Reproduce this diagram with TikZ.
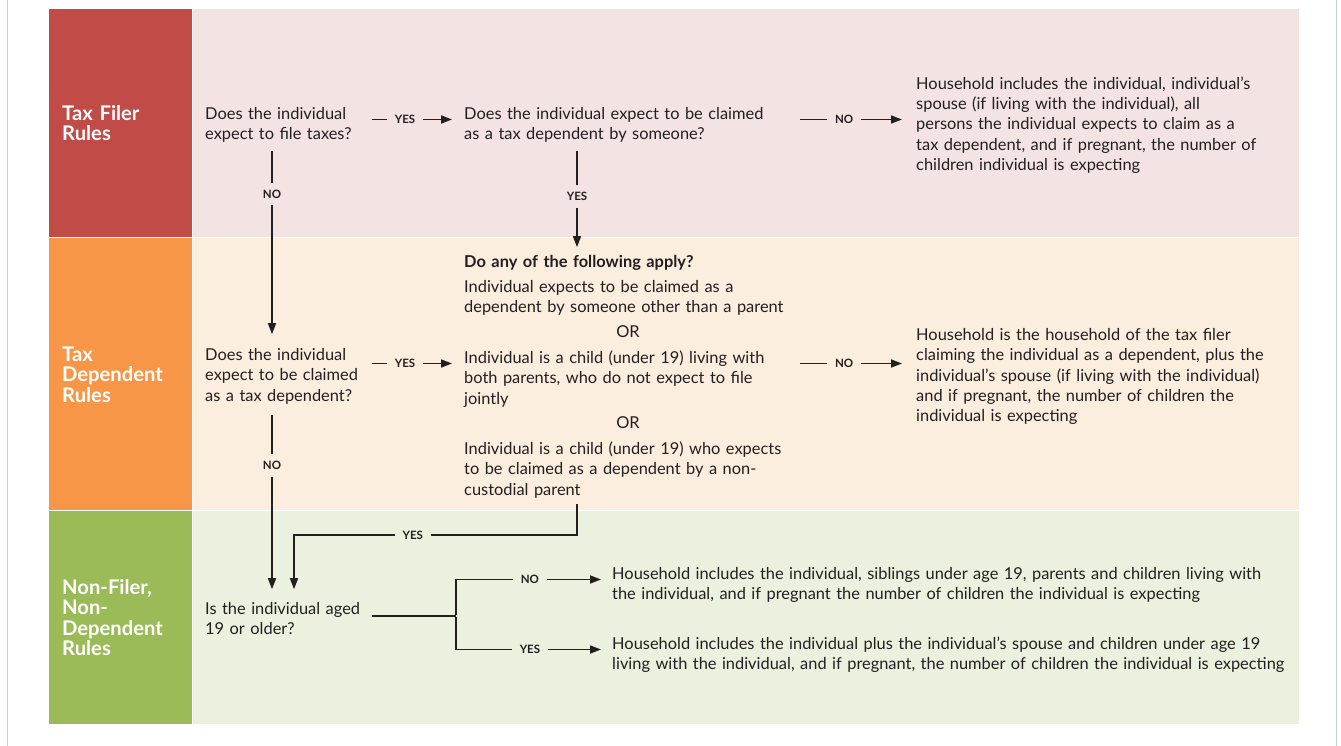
\documentclass[tikz,border=0pt]{standalone}
\usepackage{fontspec}
\setmainfont{Lato}
\usepackage{xcolor}
\usepackage{tikz}
\usetikzlibrary{arrows.meta,positioning,calc}

\definecolor{filerred}{HTML}{C04B47}
\definecolor{filerbg}{HTML}{F4E3E3}
\definecolor{deporange}{HTML}{F79646}
\definecolor{depbg}{HTML}{FCEEDF}
\definecolor{nongreen}{HTML}{9BBB59}
\definecolor{nonbg}{HTML}{EBF1DE}
\definecolor{ink}{HTML}{231F20}
\definecolor{edgegray}{HTML}{C3CAD8}

\tikzset{
  body/.style={font=\fontsize{16.4}{20.25}\selectfont, text=ink, align=left, anchor=base west, inner sep=0pt},
  quest/.style={body, text width=168pt},
  option/.style={body, text width=336pt},
  outcome/.style={body, text width=#1},
  rulename/.style={font=\fontsize{20.2}{20.4}\selectfont\bfseries, text=white, align=left, anchor=base west, inner sep=0pt, text width=125pt},
  tag/.style={font=\fontsize{11.5}{11.5}\selectfont\bfseries, text=ink, fill=#1, inner xsep=8pt, inner ysep=7pt},
  link/.style={line width=1.6pt, draw=ink},
  flow/.style={link, -{Triangle[length=11pt,width=8pt]}}
}

\begin{document}
\begin{tikzpicture}[x=1pt,y=-1pt]
\useasboundingbox (0,0) rectangle (1341,746);
\fill[white] (0,0) rectangle (1341,746);
\draw[edgegray, line width=1pt] (7,0) -- (7,746);
\draw[edgegray, line width=1pt] (1336,0) -- (1336,746);
\draw[white, fill=filerbg] (48,8) rectangle (1299,237);
\draw[white, fill=filerred] (48,8) rectangle (192,237);
\draw[white, fill=depbg] (48,237) rectangle (1299,510);
\draw[white, fill=deporange] (48,237) rectangle (192,510);
\draw[white, fill=nonbg] (48,510) rectangle (1299,724);
\draw[white, fill=nongreen] (48,510) rectangle (192,724);

\node[rulename] (filer) at (62,120.5) {Tax Filer\\Rules};
\node[rulename] (dependent) at (62,361.5) {Tax\\Dependent\\Rules};
\node[rulename] (nonfiler) at (62,594.5) {Non-Filer,\\Non-\\Dependent\\Rules};

\node[quest] (q1) at (205,119.5) {Does the individual\\expect to file taxes?};
\node[option] (q2) at (464,119.5) {Does the individual expect to be claimed\\as a tax dependent by someone?};
\node[outcome=400pt] (res1) at (916,89.5) {Household includes the individual, individual’s\\spouse (if living with the individual), all\\persons the individual expects to claim as a\\tax dependent, and if pregnant, the number of\\children individual is expecting};

\node[quest] (q3) at (205,360.5) {Does the individual\\expect to be claimed\\as a tax dependent?};
\node[option, font=\fontsize{16.4}{20.25}\selectfont\bfseries] (apply) at (464,267.5) {Do any of the following apply?};
\node[option] (opt1) at (464,292.5) {Individual expects to be claimed as a\\dependent by someone other than a parent};
\node[body, anchor=base] (or1) at (628,337.5) {OR};
\node[option] (opt2) at (464,363.5) {Individual is a child (under 19) living with\\both parents, who do not expect to file\\jointly};
\node[body, anchor=base] (or2) at (628,428.5) {OR};
\node[option] (opt3) at (464,454.5) {Individual is a child (under 19) who expects\\to be claimed as a dependent by a non-\\custodial parent};
\node[outcome=400pt] (res2) at (916,340.5) {Household is the household of the tax filer\\claiming the individual as a dependent, plus the\\individual’s spouse (if living with the individual)\\and if pregnant, the number of children the\\individual is expecting};

\node[quest] (q4) at (205,614.5) {Is the individual aged\\19 or older?};
\node[outcome=700pt] (res3) at (612,579.5) {Household includes the individual, siblings under age 19, parents and children living with\\the individual, and if pregnant the number of children the individual is expecting};
\node[outcome=700pt] (res4) at (612,649.5) {Household includes the individual plus the individual’s spouse and children under age 19\\living with the individual, and if pregnant, the number of children the individual is expecting};

\coordinate (colA) at (272,0);
\coordinate (colB) at (294,0);
\coordinate (colC) at (577,0);
\coordinate (yesrow) at (0,535);
\coordinate (fork) at (456,616);

\draw[flow] ([xshift=-1pt]q1.base east) -- node[tag=filerbg, pos=.41]{YES} ([xshift=-12pt]q2.base west);
\draw[flow] (q2.base east) -- node[tag=filerbg, pos=.43]{NO} ([xshift=-14pt]q2.base east -| res1.west);
\draw[flow, shorten <=8pt, shorten >=14pt] (q1.south -| colA) -- node[tag=filerbg, pos=.25]{NO} (q3.north -| colA);
\draw[flow, shorten <=8pt, shorten >=8pt] (q2.south -| colC) -- node[tag=filerbg, pos=.48]{YES} (apply.north -| colC);

\draw[flow] ([xshift=-1pt]q3.east |- opt2.base) -- node[tag=depbg, pos=.41]{YES} ([xshift=-12pt]opt2.base west);
\draw[flow] (opt2.base east) -- node[tag=depbg, pos=.43]{NO} ([xshift=-14pt]opt2.base east -| res2.west);
\draw[flow, shorten <=11pt, shorten >=13pt] (q3.south -| colA) -- node[tag=depbg, pos=.31]{NO} (q4.north -| colA);
\draw[flow, shorten <=6pt, shorten >=13pt] (opt3.south -| colC) |- node[tag=nonbg, pos=.79]{YES} (yesrow -| colB) -- (q4.north -| colB);

\draw[link] ([xshift=-1pt]q4.east |- fork) -- (fork);
\draw[flow] ([yshift=.8pt]fork) |- node[tag=nonbg, pos=.755]{NO} ([xshift=-11pt]res3.base west);
\draw[flow] ([yshift=-.8pt]fork) |- node[tag=nonbg, pos=.755]{YES} ([xshift=-11pt]res4.base west);
\end{tikzpicture}
\end{document}
